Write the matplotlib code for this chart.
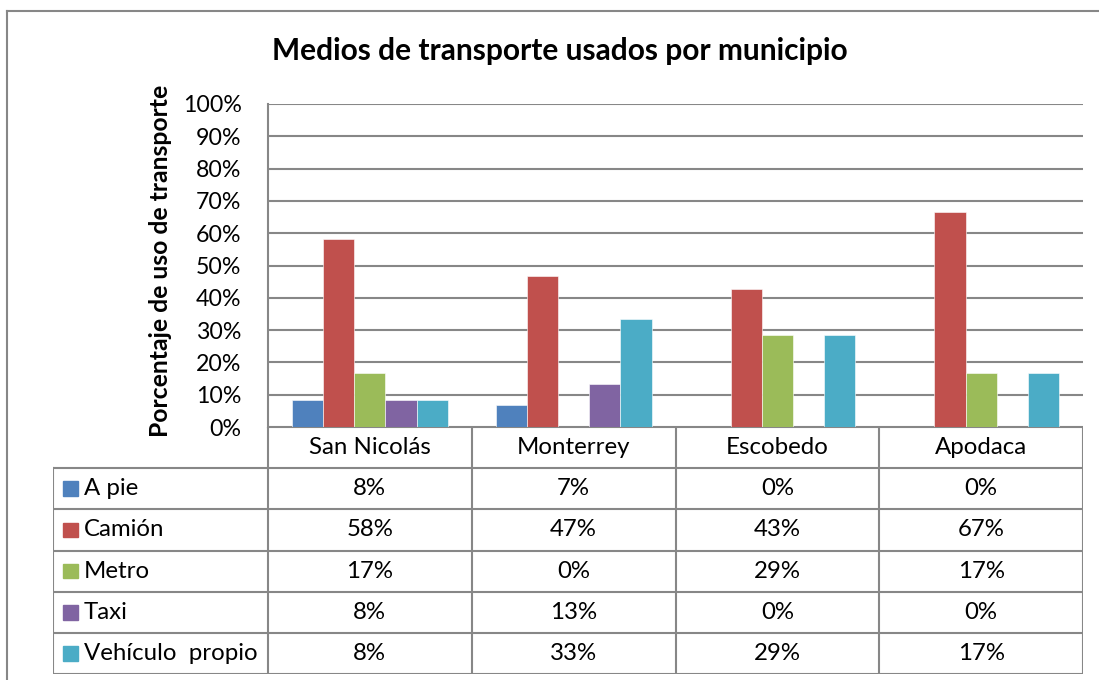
import matplotlib
matplotlib.use("Agg")
import matplotlib.pyplot as plt
from matplotlib.patches import Rectangle
from matplotlib.lines import Line2D
import numpy as np

plt.rcParams['font.family'] = ['Lato', 'DejaVu Sans']

municipios = ["San Nicolás", "Monterrey", "Escobedo", "Apodaca"]
series = ["A pie", "Camión", "Metro", "Taxi", "Vehículo  propio"]
a_pie = [0.0833, 0.0667, 0.0, 0.0]
camion = [0.5833, 0.4667, 0.4286, 0.6667]
metro = [0.1667, 0.0, 0.2857, 0.1667]
taxi = [0.0833, 0.1333, 0.0, 0.0]
vehiculo = [0.0833, 0.3333, 0.2857, 0.1667]
colors = ["#4F81BD", "#C0504D", "#9BBB59", "#8064A2", "#4BACC6"]
yticks = [0, 0.1, 0.2, 0.3, 0.4, 0.5, 0.6, 0.7, 0.8, 0.9, 1.0]
ytick_labels = ["0%", "10%", "20%", "30%", "40%", "50%", "60%", "70%", "80%", "90%", "100%"]
title = "Medios de transporte usados por municipio"
ylabel = "Porcentaje de uso de transporte"

values = [a_pie, camion, metro, taxi, vehiculo]

W, H = 1099, 680
fig = plt.figure(figsize=(W / 100, H / 100), dpi=100)
fig.patch.set_facecolor("white")

grid_c = "#878787"

# outer border (top and left visible)
fig.add_artist(Line2D([7 / W, 7 / W], [1 - 11 / H, -0.1], transform=fig.transFigure,
                      color=grid_c, lw=1.5))
fig.add_artist(Line2D([7 / W, 1.1], [1 - 11 / H, 1 - 11 / H], transform=fig.transFigure,
                      color=grid_c, lw=1.5))

# bar axes
x0, x1, ytop, ybot = 268, 1083, 104, 427
ax = fig.add_axes([x0 / W, 1 - ybot / H, (x1 - x0) / W, (ybot - ytop) / H])
n = len(municipios)
x = np.arange(n)
bw = 0.153
for i, (vals, c) in enumerate(zip(values, colors)):
    ax.bar(x + (i - 2) * bw, vals, width=bw, color=c, edgecolor="white", linewidth=0.4, zorder=3)
ax.set_xlim(-0.5, n - 0.5)
ax.set_ylim(0, 1.0)
ax.set_yticks(yticks)
ax.set_yticklabels(ytick_labels, fontsize=16.7)
ax.tick_params(axis='y', length=0, pad=19)
ax.set_xticks([])
for s in ["top", "right", "bottom"]:
    ax.spines[s].set_visible(False)
ax.spines["left"].set_color(grid_c)
ax.spines["left"].set_linewidth(1.5)
ax.yaxis.grid(True, color=grid_c, linewidth=1.5, zorder=0)
ax.set_axisbelow(True)
ax.set_ylabel(ylabel, fontsize=17.8, fontweight="bold")
ax.yaxis.set_label_coords(-(x0 - 160) / (x1 - x0), (ybot - 260.5) / (ybot - ytop))
ax.yaxis.label.set_va("center")

fig.text(560 / W, 1 - 51 / H, title, fontsize=21.5, fontweight="bold",
         ha="center", va="center")

# data table axes
tx0, ty0, ty1 = 53, 427, 674
tax = fig.add_axes([tx0 / W, 1 - ty1 / H, (x1 - tx0) / W, (ty1 - ty0) / H])
unit = (x1 - x0) / n
xmin = -0.5 - (x0 - tx0) / unit
xmax = n - 0.5
nrows = len(series) + 1
tax.set_xlim(xmin, xmax)
tax.set_ylim(nrows, 0)
tax.axis("off")
lk = dict(color=grid_c, lw=1.5, solid_capstyle="projecting")
tax.plot([-0.5, xmax], [0, 0], **lk)
for r in range(1, nrows + 1):
    tax.plot([xmin, xmax], [r, r], **lk)
for cx in np.arange(-0.5, n, 1.0):
    tax.plot([cx, cx], [0, nrows], **lk)
tax.plot([xmin, xmin], [1, nrows], **lk)

fs = 17.3
for j, m in enumerate(municipios):
    tax.text(j, 0.5, m, ha="center", va="center", fontsize=fs)
for i, (s, vals, c) in enumerate(zip(series, values, colors)):
    r = i + 1
    sq_w = 15 / unit
    tax.add_patch(Rectangle((xmin + 10 / unit, r + 0.5 - 0.18), sq_w, 0.36, color=c))
    tax.text(xmin + 31 / unit, r + 0.5, s, ha="left", va="center", fontsize=fs)
    for j, v in enumerate(vals):
        tax.text(j, r + 0.5, f"{round(v * 100):d}%", ha="center", va="center", fontsize=fs)

fig.savefig("out.png", dpi=100)
